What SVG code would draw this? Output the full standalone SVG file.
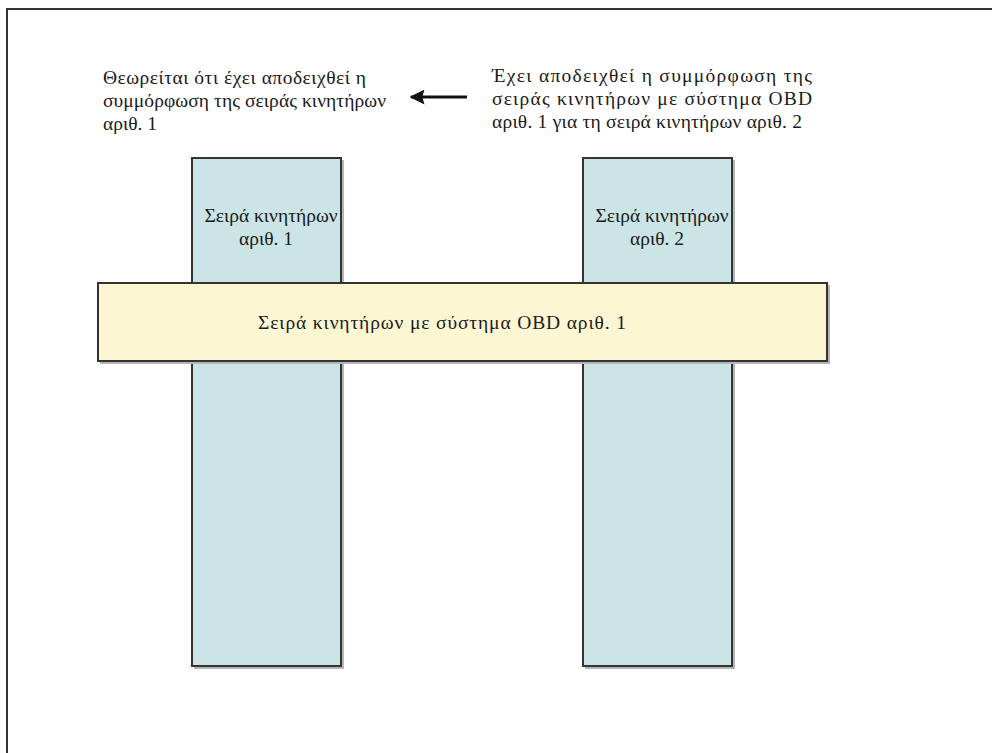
<svg xmlns="http://www.w3.org/2000/svg" width="992" height="753" viewBox="0 0 992 753">
<style>
.t{font-family:"Liberation Serif","DejaVu Serif",serif;font-size:19.5px;fill:#1a1a1a}
.blue{fill:#cbe4e5;stroke:#333;stroke-width:2}
.yel{fill:#fdf6d3;stroke:#333;stroke-width:2}
.sh{fill:#b5b5b5}
.frame{fill:none;stroke:#333;stroke-width:2}
</style>
<defs>
<marker id="ah" viewBox="0 0 10 10" refX="9" refY="5" markerWidth="6" markerHeight="5" markerUnits="strokeWidth" orient="auto">
<path d="M10,5 L0,0 L1.5,5 L0,10 Z" fill="#111"/>
</marker>
</defs>
<rect width="992" height="753" fill="#fff"/>
<path class="frame" d="M7,753 V9 H992"/>
<g id="note-left">
<text class="t" x="103" y="84" textLength="263" lengthAdjust="spacing">Θεωρείται ότι έχει αποδειχθεί η</text>
<text class="t" x="103" y="107" textLength="283" lengthAdjust="spacing">συμμόρφωση της σειράς κινητήρων</text>
<text class="t" x="103" y="130">αριθ. 1</text>
</g>
<g id="note-right">
<text class="t" x="492" y="82" textLength="320" lengthAdjust="spacing">Έχει αποδειχθεί η συμμόρφωση της</text>
<text class="t" x="492" y="105" textLength="320" lengthAdjust="spacing">σειράς κινητήρων με σύστημα OBD</text>
<text class="t" x="492" y="128" textLength="310" lengthAdjust="spacing">αριθ. 1 για τη σειρά κινητήρων αριθ. 2</text>
</g>
<g id="connectors">
<line x1="467" y1="97" x2="411" y2="97" stroke="#111" stroke-width="3" marker-end="url(#ah)"/>
</g>
<g id="family1">
<rect class="sh" x="194" y="160" width="150" height="509"/>
<rect class="blue" x="192" y="158" width="149" height="508"/>
<text class="t" x="271" y="222" text-anchor="middle">Σειρά κινητήρων</text>
<text class="t" x="266" y="245" text-anchor="middle">αριθ. 1</text>
</g>
<g id="family2">
<rect class="sh" x="585" y="160" width="150" height="509"/>
<rect class="blue" x="583" y="158" width="149" height="508"/>
<text class="t" x="662" y="222" text-anchor="middle">Σειρά κινητήρων</text>
<text class="t" x="657" y="245" text-anchor="middle">αριθ. 2</text>
</g>
<g id="obd-family">
<rect class="sh" x="100" y="285" width="730" height="79"/>
<rect class="yel" x="98" y="283" width="729" height="78"/>
<text class="t" x="258" y="329" textLength="368" lengthAdjust="spacing">Σειρά κινητήρων με σύστημα OBD αριθ. 1</text>
</g>
</svg>
